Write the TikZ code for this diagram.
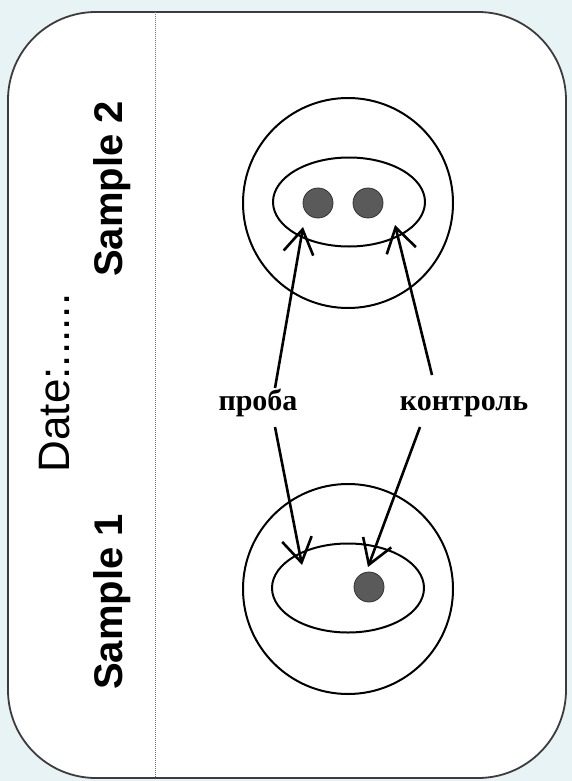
\documentclass[tikz,border=0pt]{standalone}
\usepackage{fontspec}
\setmainfont{Liberation Serif}
\setsansfont{Liberation Sans}
\usetikzlibrary{arrows.meta,shapes.geometric}
\definecolor{cpage}{HTML}{E8F3F5}
\definecolor{cframe}{HTML}{3C3C3C}
\definecolor{cdot}{HTML}{5A5A5A}
\tikzset{
  dish/.style={draw, circle, line width=2pt, minimum size=210pt, inner sep=0pt},
  zone/.style={draw, ellipse, line width=2pt, minimum width=152pt, minimum height=89pt, inner sep=0pt},
  spot/.style={circle, draw=black!80, fill=cdot, minimum size=30pt, inner sep=0pt, line width=0.8pt},
  tag/.style={font=\fontsize{40}{40}\selectfont\sffamily\bfseries, rotate=90},
  word/.style={font=\fontsize{30}{30}\selectfont\bfseries},
  arr/.style={-{Straight Barb[length=24pt,width=30pt,line width=2.6pt]}, line width=2.6pt},
}

\begin{document}
\begin{tikzpicture}[x=1pt,y=-1pt]
\fill[cpage] (0,0) rectangle (572,781);
\useasboundingbox (0,0) rectangle (572,781);
\draw[cframe, line width=1.8pt, fill=white, rounded corners=88pt] (8,12) rectangle (566,778);
\draw[black!55, densely dotted, line width=1pt] (155,12) -- (155,778);
% side labels
\node[tag] (s2) at (112,189) {Sample 2};
\node[tag] (s1) at (112,602) {Sample 1};
\node[tag, font=\fontsize{44}{44}\selectfont\sffamily] (date) at (55,383) {Date:......};
% sample 2
\node[dish] (top) at (348,203) {};
\node[zone] (topin) at (349,202) {};
\node[spot] (dl) at (318,203) {};
\node[spot] (dr) at (368,203) {};
% sample 1
\node[dish] (bot) at (348,589) {};
\node[zone] (botin) at (348,588) {};
\node[spot] (db) at (369,587) {};
% labels and arrows
\node[word, anchor=base] (proba) at (258,410) {проба};
\node[word, anchor=base] (kontrol) at (464,410) {контроль};
\coordinate (pu) at (275,388);
\coordinate (pd) at (275,427);
\coordinate (ku) at (432,375);
\coordinate (kd) at (420,427);
\coordinate (tpu) at (303,227);
\coordinate (tku) at (395,225);
\coordinate (tpd) at (302,565);
\coordinate (tkd) at (368,567);
\draw[arr] (pu) -- (tpu);
\draw[arr] (ku) -- (tku);
\draw[arr] (pd) -- (tpd);
\draw[arr] (kd) -- (tkd);
\end{tikzpicture}
\end{document}
